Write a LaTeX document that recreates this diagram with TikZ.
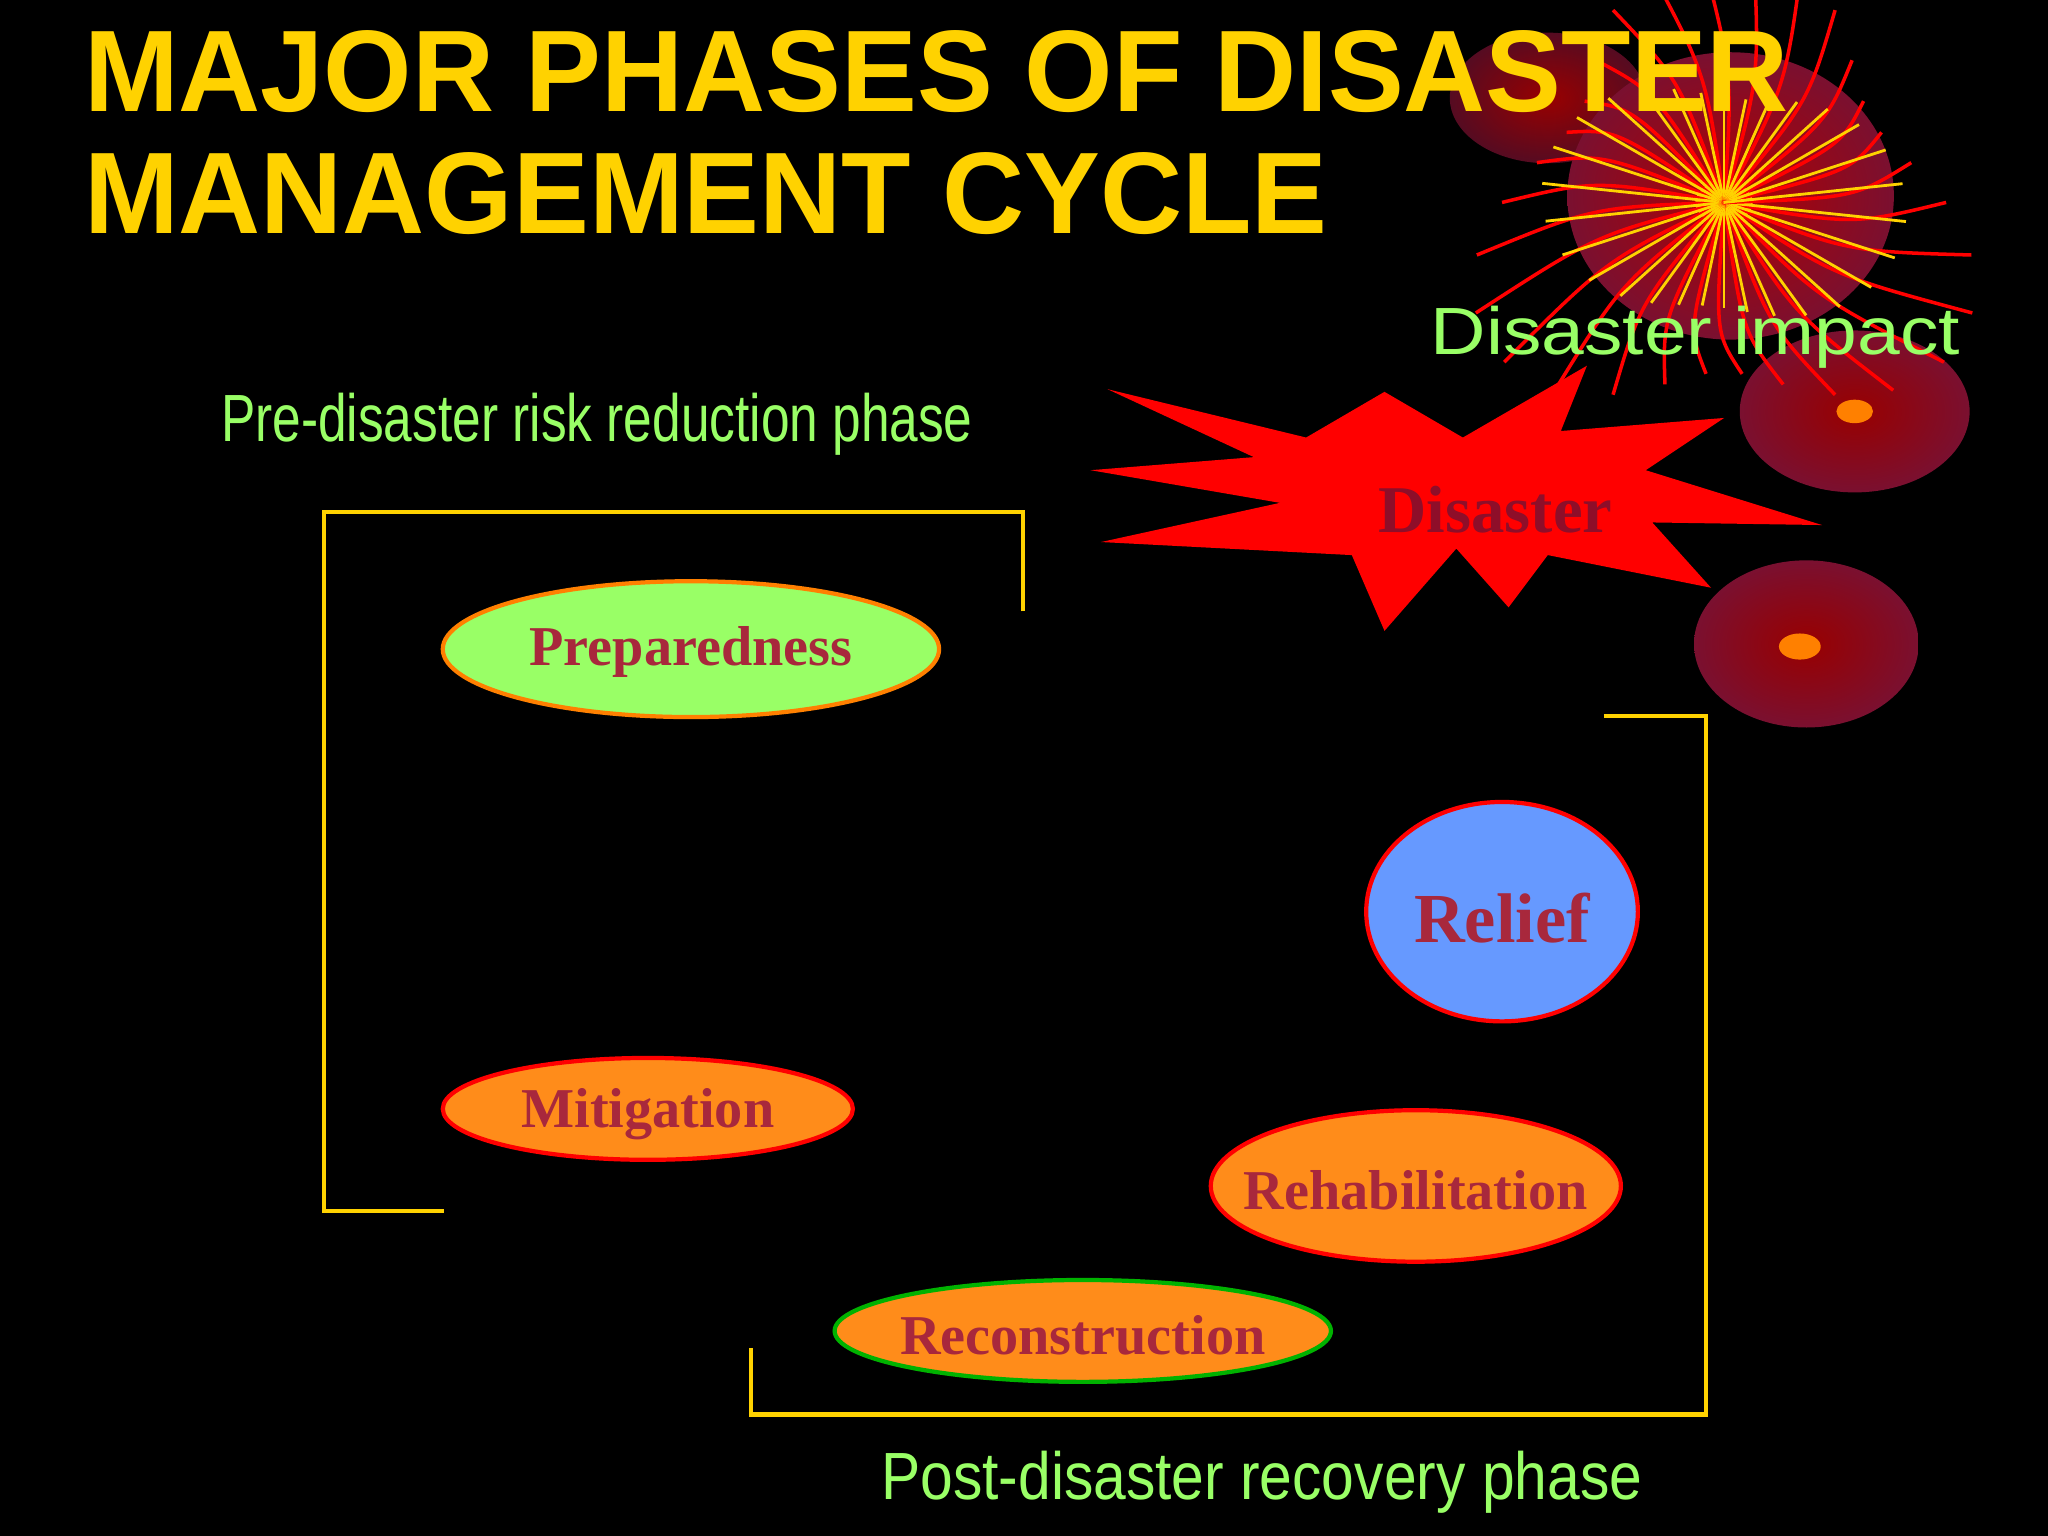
\documentclass[tikz,border=0pt]{standalone}
\usepackage{fontspec}
\setmainfont{Liberation Serif}
\setsansfont{Liberation Sans}
\definecolor{ttl}{HTML}{FFD200}
\definecolor{lg}{HTML}{99FF66}
\definecolor{txr}{HTML}{A8283C}
\definecolor{orng}{HTML}{FF8C1A}
\definecolor{blu}{HTML}{6699FF}
\definecolor{dred}{HTML}{7A1030}
\begin{document}
\begin{tikzpicture}[x=0.013061cm,y=-0.013061cm,
  ptxt/.style={font=\rmfamily\bfseries\fontsize{16}{18}\selectfont,text=txr,inner sep=0pt},
  eln/.style={line width=1.2pt},
  brk/.style={draw=ttl,line width=1.2pt},
  gtxt/.style={text=lg,font=\sffamily\fontsize{19}{22}\selectfont}]
\fill[black] (0,0) rectangle (1568,1176);
\useasboundingbox (0,0) rectangle (1568,1176);
% decorations
\shade[inner color=red!60!black,outer color=dred!70!black] (1185,75) ellipse (75 and 50);
\shade[inner color=red!70!black,outer color=dred] (1325,150) ellipse (125 and 110);
\shade[inner color=red!60!black,outer color=dred] (1420,315) ellipse (88 and 62);
\shade[inner color=red!60!black,outer color=dred] (1383,493) ellipse (86 and 64);
\fill[orange] (1420,315) ellipse (14 and 9);
\fill[orange] (1378,495) ellipse (16 and 10);
\fill[ttl] (1320,155) ellipse (22 and 16);
\foreach \a in {0,12,...,350}{
  \draw[red,line width=1pt] (1320,155) .. controls ++(\a+10:100) .. ++(\a:{170+40*sin(3*\a)});
  \draw[ttl,line width=0.8pt] (1320,155) -- ++(\a+6:{110+30*cos(2*\a)});
}
% star
\fill[red] (848,298) -- (1000,335) -- (1060,300) -- (1120,335) -- (1215,280) -- (1195,330) -- (1320,320) -- (1260,360) -- (1395,402) -- (1265,400) -- (1310,450) -- (1185,425) -- (1155,465) -- (1115,420) -- (1060,483) -- (1035,425) -- (843,415) -- (980,385) -- (835,360) -- (960,350) -- cycle;
\node[text=dred!85!red,font=\rmfamily\bfseries\fontsize{19}{22}\selectfont] (dis) at (1145,390) {Disaster};
% title
\node[anchor=west,text=ttl,font=\sffamily\bfseries\fontsize{33}{36}\selectfont,xscale=0.98] (t1) at (55,55) {MAJOR PHASES OF DISASTER};
\node[anchor=west,text=ttl,font=\sffamily\bfseries\fontsize{33}{36}\selectfont,xscale=0.98] (t2) at (55,148) {MANAGEMENT CYCLE};
\node[gtxt,xscale=1.15] (imp) at (1298,258) {Disaster impact};
\node[gtxt,xscale=0.77] (pre) at (457,325) {Pre-disaster risk reduction phase};
\node[gtxt,xscale=0.88] (post) at (966,1135) {Post-disaster recovery phase};
% brackets
\coordinate (a1) at (783,468); \coordinate (a2) at (783,392); \coordinate (a3) at (248,392); \coordinate (a4) at (248,927); \coordinate (a5) at (340,927);
\draw[brk] (a1) -- (a2) -- (a3) -- (a4) -- (a5);
\coordinate (b1) at (1228,548); \coordinate (b2) at (1306,548); \coordinate (b3) at (1306,1083); \coordinate (b4) at (575,1083); \coordinate (b5) at (575,1032);
\draw[brk] (b1) -- (b2) -- (b3) -- (b4) -- (b5);
% phases
\filldraw[eln,fill=lg,draw=orange] (529,497) ellipse (190 and 52);
\node[ptxt] (prep) at (529,499) {Preparedness};
\filldraw[eln,fill=blu,draw=red] (1150,698) ellipse (104 and 84);
\node[ptxt,font=\rmfamily\bfseries\fontsize{20}{22}\selectfont] (rel) at (1150,703) {Relief};
\filldraw[eln,fill=orng,draw=red] (496,849) ellipse (157 and 39);
\node[ptxt] (mit) at (496,853) {Mitigation};
\filldraw[eln,fill=orng,draw=red] (1084,908) ellipse (157 and 58);
\node[ptxt] (reh) at (1084,911) {Rehabilitation};
\filldraw[eln,fill=orng,draw=green!70!black] (829,1019) ellipse (190 and 39);
\node[ptxt] (rec) at (829,1022) {Reconstruction};
\end{tikzpicture}
\end{document}
